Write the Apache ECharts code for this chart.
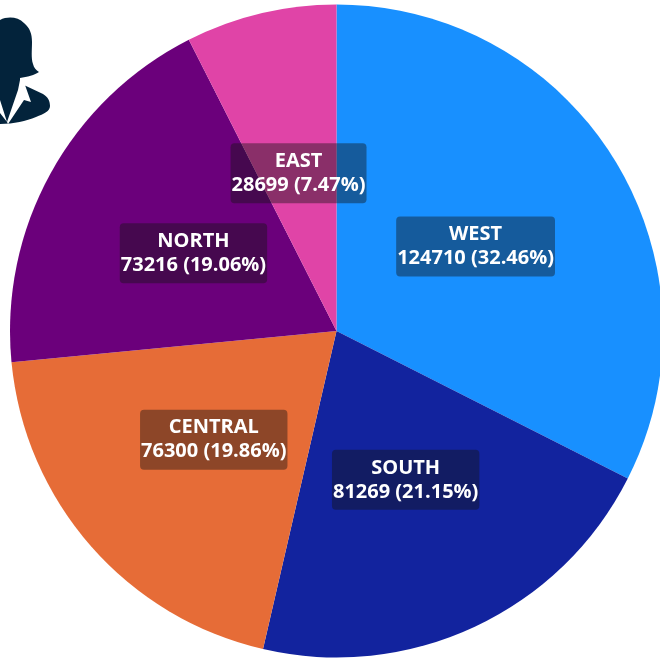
<!DOCTYPE html>
<html>
<head>
<meta charset="utf-8">
<style>html,body{margin:0;padding:0;background:#fff}#chart{width:660px;height:658px}</style>
<script src="https://cdn.jsdelivr.net/npm/echarts@6/dist/echarts.min.js"></script>
</head>
<body>
<div id="chart"></div>
<script>
// Sales by region
const regions = ['WEST', 'SOUTH', 'CENTRAL', 'NORTH', 'EAST'];
const sales = [124710, 81269, 76300, 73216, 28699];
const colors = ['#1890ff', '#12239e', '#e66c37', '#6b007b', '#e044a7'];

// Silhouette shown in the top-left corner
const personBody = 'M0 20 C8 16 18 17 24 23 C30 28 32 34 32 42 C32 50 31 58 33 64 C34 68 36 70 39 72 C35 75 27 77 20 78 L20 84 L26 86 L43 94 C48 97 50 101 50 106 C50 111 44 114 36 117 C26 121 14 124 0 124 Z';
const personCollar = 'M20 80 L25 85 L31 102 L24 100 L8 124 L7 122 L18 90 Z M0 100 L7 122 L0 113 Z';

// Pull each label slightly towards the pie centre, along its slice's middle angle
const labelInset = 3;
const labelDrop = 1;
const total = sales.reduce((a, b) => a + b, 0);
let running = 0;
const slices = regions.map((name, i) => {
  const mid = (running + sales[i] / 2) / total * 2 * Math.PI;
  running += sales[i];
  return {
    name,
    value: sales[i],
    label: { offset: [-Math.sin(mid) * labelInset, Math.cos(mid) * labelInset + labelDrop] }
  };
});

const chart = echarts.init(document.getElementById('chart'), null, { renderer: 'canvas' });
chart.setOption({
  animation: false,
  color: colors,
  series: [{
    type: 'pie',
    center: [336.5, 331],
    radius: [0, 326.5],
    startAngle: 90,
    clockwise: true,
    percentPrecision: 2,
    data: slices,
    label: {
      show: true,
      position: 'inside',
      formatter: '{b}\n{c} ({d}%)',
      color: '#ffffff',
      fontFamily: '"Open Sans", sans-serif',
      fontWeight: 700,
      fontSize: 20,
      lineHeight: 24,
      align: 'center',
      backgroundColor: 'rgba(20,20,20,0.42)',
      borderRadius: 4,
      padding: [6, 1, 6, 1]
    },
    labelLine: { show: false },
    emphasis: { disabled: true }
  }, {
    type: 'custom',
    coordinateSystem: 'none',
    silent: true,
    z: 10,
    data: [0],
    renderItem: () => ({
      type: 'group',
      children: [
        { type: 'path', shape: { pathData: personBody, layout: 'cover', x: 0, y: 17.6, width: 50, height: 106.4 }, style: { fill: '#03233b' } },
        { type: 'path', shape: { pathData: personCollar, layout: 'cover', x: 0, y: 80, width: 31, height: 44 }, style: { fill: '#ffffff' } }
      ]
    })
  }]
});
</script>
</body>
</html>
